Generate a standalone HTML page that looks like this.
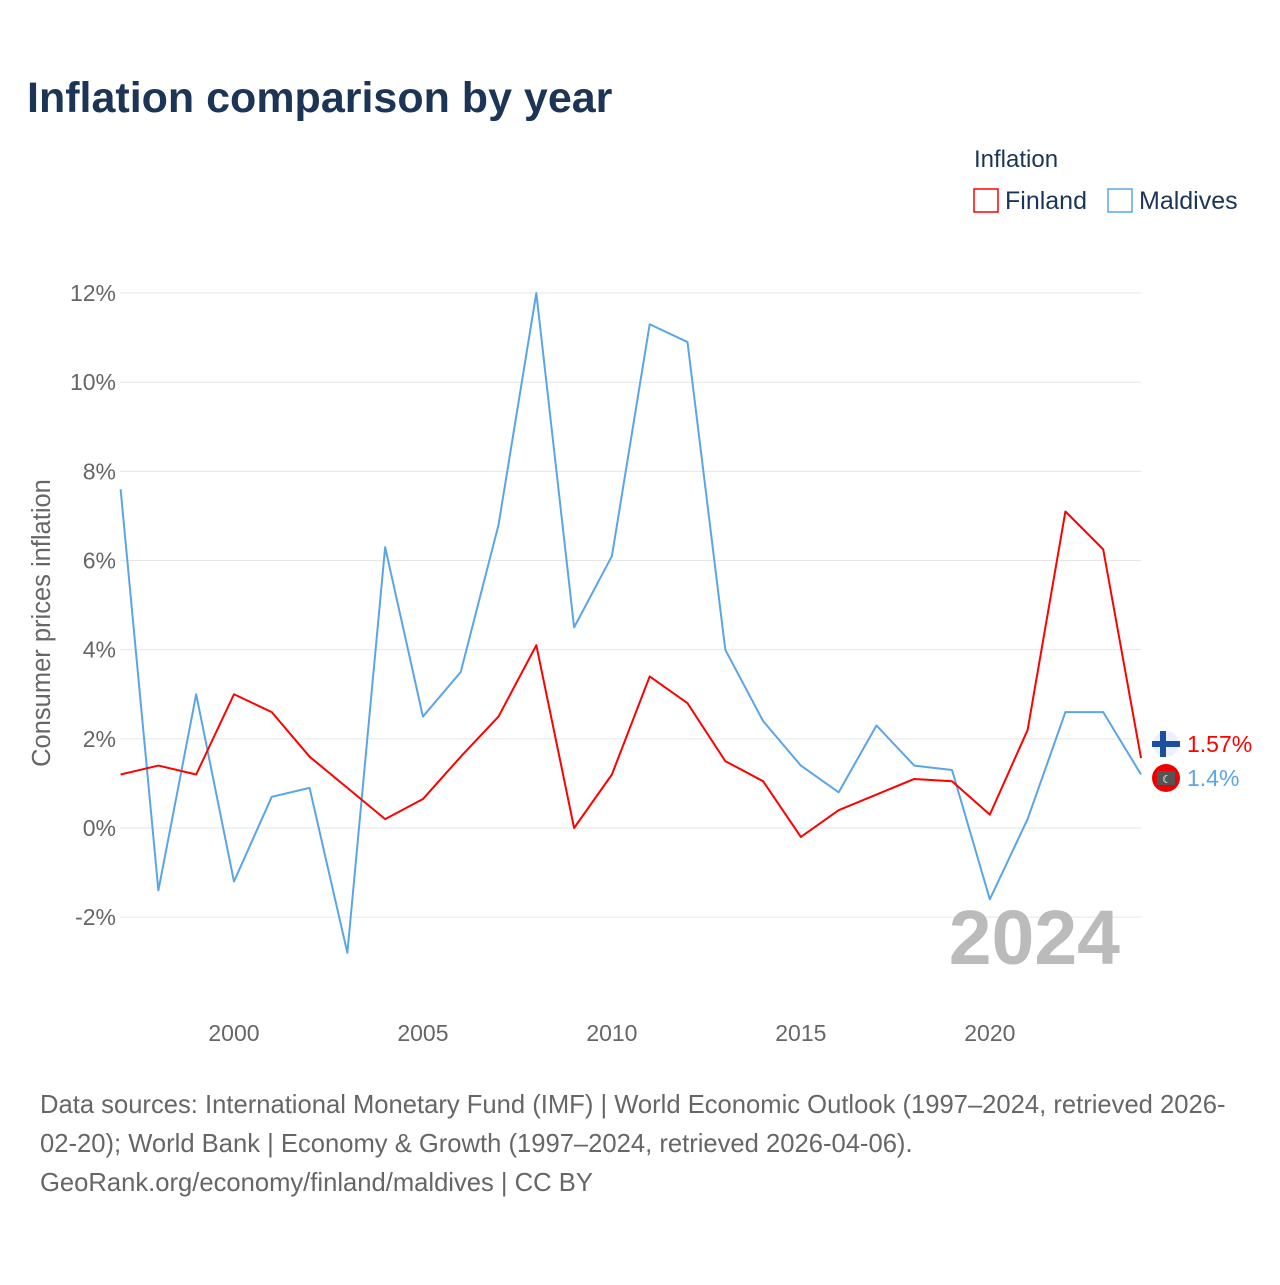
<!DOCTYPE html>
<html><head><meta charset="utf-8"><style>
body{margin:0;background:#fff;font-family:"Liberation Sans",sans-serif;}
svg text{font-family:"Liberation Sans",sans-serif;}
</style></head><body>
<svg width="1280" height="1280" viewBox="0 0 1280 1280">
<text x="27" y="112" font-size="43" font-weight="bold" fill="#1c3557">Inflation comparison by year</text>
<g>
<text x="974" y="167" font-size="24" fill="#1c3557">Inflation</text>
<g><rect x="974" y="189" width="24" height="23" fill="none" stroke="#f00" stroke-width="1.5"/><text x="1005" y="209" font-size="25" fill="#1c3557">Finland</text></g>
<g><rect x="1108" y="189" width="24" height="23" fill="none" stroke="#5aa5e8" stroke-width="1.5"/><text x="1139" y="209" font-size="25" fill="#1c3557">Maldives</text></g>
</g>
<g id="grid"></g><g id="yticks"></g><g id="xticks"></g>
<text transform="translate(50,623) rotate(-90)" text-anchor="middle" font-size="25.5" fill="#666">Consumer prices inflation</text>
<text x="1120" y="964" text-anchor="end" font-size="77" font-weight="bold" fill="#bbb">2024</text>
<g id="series"></g>
<g>
<circle cx="1166" cy="744" r="13" fill="#eef"/><rect x="1152" y="741" width="28" height="6" fill="#1a4fa0"/><rect x="1160" y="731" width="6" height="26" fill="#1a4fa0"/>
<text x="1187" y="752" font-size="23" fill="#f00">1.57%</text>
<circle cx="1166" cy="778" r="14" fill="#e00"/><rect x="1157" y="771" width="18" height="14" fill="#555"/><text x="1162" y="783" font-size="11" fill="#fff">☾</text>
<text x="1187" y="786" font-size="23" fill="#5aa5e8">1.4%</text>
</g>
<text font-size="25.6" fill="#666"><tspan x="40" y="1113">Data sources: International Monetary Fund (IMF) | World Economic Outlook (1997–2024, retrieved 2026-</tspan><tspan x="40" y="1152">02-20); World Bank | Economy &amp; Growth (1997–2024, retrieved 2026-04-06).</tspan><tspan x="40" y="1191">GeoRank.org/economy/finland/maldives | CC BY</tspan></text>
</svg>
<script>
const years=[1997,1998,1999,2000,2001,2002,2003,2004,2005,2006,2007,2008,2009,2010,2011,2012,2013,2014,2015,2016,2017,2018,2019,2020,2021,2022,2023,2024];
const finland=[1.2,1.4,1.2,3.0,2.6,1.6,0.9,0.2,0.65,1.6,2.5,4.1,0.0,1.2,3.4,2.8,1.5,1.05,-0.2,0.4,0.75,1.1,1.05,0.3,2.2,7.1,6.25,1.57];
const maldives=[7.6,-1.4,3.0,-1.2,0.7,0.9,-2.8,6.3,2.5,3.5,6.8,12.0,4.5,6.1,11.3,10.9,4.0,2.4,1.4,0.8,2.3,1.4,1.3,-1.6,0.2,2.6,2.6,1.2];
const yTicks=[-2,0,2,4,6,8,10,12];
const yLabels=["-2%","0%","2%","4%","6%","8%","10%","12%"];
const xTicks=[2000,2005,2010,2015,2020];
const NS="http://www.w3.org/2000/svg";
function X(y){return 120.6+(y-1997)*(1141-120.6)/27;}
function Y(v){return 828-v*44.58;}
function mk(t,a,p){const e=document.createElementNS(NS,t);for(const k in a)e.setAttribute(k,a[k]);p.appendChild(e);return e;}
const g=document.getElementById('grid'),yt=document.getElementById('yticks'),xt=document.getElementById('xticks'),s=document.getElementById('series');
yTicks.forEach((v,i)=>{
const l=mk('line',{x1:120,x2:1141,y1:Y(v),y2:Y(v),stroke:'#e6e6e6','stroke-width':1},g);


const t=mk('text',{x:116,y:Y(v)+8,'text-anchor':'end','font-size':23,fill:'#666'},yt);
t.textContent=yLabels[i];


});
xTicks.forEach(v=>{
const t=mk('text',{x:X(v),y:1041,'text-anchor':'middle','font-size':23,fill:'#666'},xt);
t.textContent=v;


});
function line(d,c,n){
const p=mk('polyline',{points:d.map((v,i)=>X(years[i])+','+Y(v)).join(' '),fill:'none',stroke:c,'stroke-width':2,'stroke-linejoin':'round'},s);


}
line(maldives,'#5aa5e8','maldives-line');
line(finland,'#f00','finland-line');
</script>
</body></html>
